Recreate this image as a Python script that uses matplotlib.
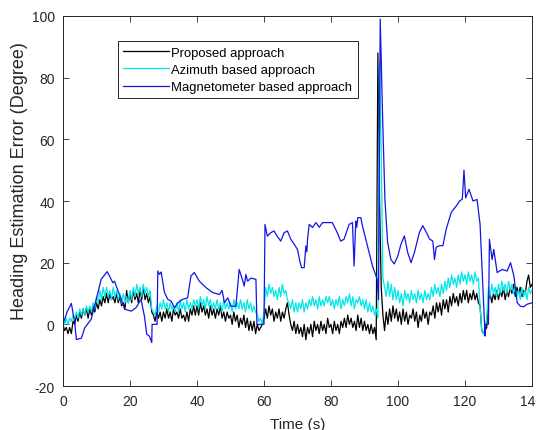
import numpy as np
import matplotlib
matplotlib.use('Agg')
import matplotlib.pyplot as plt

plt.rcParams['font.family'] = ['Liberation Sans', 'DejaVu Sans']
plt.rcParams['axes.unicode_minus'] = False

# time grid of the two noisy estimates (0.5 s steps)
t_grid = np.arange(0, 140.5, 0.5)

# proposed approach (black), one row = 10 s
proposed = [
    0, -2, -1, -3, -1, -3, 1, 0, 3, 1, 4, 2, 5, 3, 5, 2, 5, 3, 6, 4,
    7, 5, 8, 6, 9, 7, 10, 7, 10, 8, 9, 7, 10, 7, 9, 6, 7, 5, 11, 7,
    10, 7, 11, 8, 10, 7, 11, 8, 12, 8, 10, 7, 9, 4, 3, 1, 4, 2, 4, 1,
    4, 2, 5, 2, 4, 1, 5, 3, 4, 2, 5, 2, 3, 1, 4, 1, 5, 3, 6, 3,
    6, 3, 7, 4, 6, 3, 5, 2, 6, 3, 5, 2, 5, 3, 6, 2, 4, 1, 4, 2,
    3, 0, 4, 1, 3, -1, 2, 0, 3, -1, 2, -2, 1, -2, 1, -3, 0, -2, -1, 0,
    2, 5, 2, 6, 3, 5, 1, 4, 2, 5, 1, 4, 2, 5, 7, 3, 0, -2, 1, -3,
    0, -3, -1, -4, 0, -5, -1, -3, 0, -4, 1, -2, 0, -3, 1, -2, 0, -3, 2, -1,
    0, -3, 1, -2, 0, -3, 1, -1, 2, -1, 3, 0, 2, -1, 1, -2, 3, -1, 2, -2,
    1, -2, 0, -3, 0, -3, -1, -5, 88, 40, 12, 3, -2, 4, 0, 5, 1, 6, 2, 5,
    1, 4, 0, 5, 1, 4, 0, 3, 2, 5, 1, 4, -1, 3, 1, 5, 2, 4, 0, 4,
    3, 6, 2, 7, 4, 7, 3, 8, 5, 8, 4, 9, 6, 10, 7, 9, 6, 10, 7, 11,
    8, 11, 7, 10, 8, 11, 8, 10, 7, 6, -2, -3, -2, -1, 8, 10, 7, 10, 8, 11,
    8, 11, 9, 12, 8, 11, 9, 12, 10, 13, 9, 12, 10, 12, 9, 11, 10, 14, 16, 12,
    13]

# azimuth based approach (cyan)
azimuth = [
    1, 0, 2, 0, 2, 1, 3, 2, 4, 2, 5, 3, 5, 3, 6, 4, 6, 4, 7, 5,
    9, 7, 11, 8, 12, 9, 12, 9, 11, 8, 12, 9, 11, 8, 10, 7, 10, 7, 9, 7,
    11, 8, 12, 9, 13, 10, 12, 9, 13, 10, 12, 9, 11, 5, 4, 3, 6, 4, 7, 5,
    8, 5, 7, 4, 7, 5, 6, 4, 7, 4, 8, 5, 7, 4, 8, 5, 7, 5, 8, 6,
    8, 5, 9, 6, 8, 5, 9, 6, 8, 5, 7, 5, 8, 5, 7, 4, 8, 5, 7, 5,
    7, 4, 8, 5, 7, 5, 8, 5, 7, 4, 8, 5, 7, 4, 6, 4, 3, 1, 2, 0,
    4, 12, 9, 13, 10, 12, 9, 11, 8, 12, 9, 13, 10, 11, 8, 7, 5, 8, 4, 7,
    4, 7, 5, 8, 4, 7, 5, 8, 6, 9, 6, 8, 5, 9, 6, 8, 6, 9, 7, 9,
    6, 8, 5, 8, 6, 9, 5, 8, 6, 9, 7, 10, 6, 9, 5, 8, 7, 9, 6, 8,
    5, 8, 4, 7, 4, 6, 3, 5, 2, 85, 55, 15, 12, 9, 14, 9, 13, 8, 12, 8,
    11, 7, 10, 6, 11, 8, 10, 7, 11, 8, 10, 7, 11, 8, 10, 7, 11, 8, 10, 8,
    12, 9, 13, 10, 12, 9, 13, 10, 14, 11, 15, 12, 16, 13, 15, 12, 16, 13, 17, 14,
    16, 13, 17, 14, 16, 13, 17, 14, 15, 6, -2, -3, -1, 2, 12, 9, 13, 10, 12, 9,
    13, 10, 14, 11, 13, 10, 14, 11, 13, 10, 12, 9, 11, 8, 12, 9, 11, 8, 12, 10,
    11]

# magnetometer based approach (blue), read at its break points
mag_t = [0, 1.2, 2.5, 3.5, 4.0, 5.5, 6.5, 8.4, 9.9, 11.4, 13.2, 14.9, 15.4, 15.9,
         17.4, 18.4, 20.4, 21.8, 23.3, 24.3, 25.0, 25.8, 26.5, 26.6, 28.1, 28.3,
         28.8, 29.3, 30.3, 31.3, 32.3, 33.3, 34.3, 35.7, 37.2, 38.2, 39.2, 40.7,
         42.7, 44.7, 46.7, 47.5, 48.2, 49.2, 50.1, 51.6, 52.6, 53.4, 54.1, 54.6,
         55.1, 56.1, 57.6, 57.9, 60.0, 60.3, 61.0, 62.0, 63.0, 64.0, 65.0, 66.0,
         67.0, 68.0, 69.0, 70.0, 70.7, 71.2, 72.0, 72.5, 72.8, 73.0, 73.5, 74.5,
         75.5, 76.5, 77.5, 78.5, 80.4, 81.9, 82.9, 83.9, 85.4, 86.4, 86.9, 87.4,
         87.7, 88.0, 88.9, 89.4, 90.4, 91.4, 92.4, 93.1, 93.8, 94.2, 94.7, 95.4,
         96.1, 96.9, 97.9, 98.9, 99.9, 100.9, 101.9, 102.9, 103.9, 104.9, 106.4,
         107.4, 108.4, 109.4, 110.4, 110.9, 111.4, 112.4, 113.4, 114.4, 115.9,
         117.4, 118.4, 119.2, 119.7, 120.2, 121.2, 122.4, 123.6, 124.5, 125.4,
         126.0, 126.1, 127.0, 127.3, 128.1, 128.6, 129.6, 131.1, 132.6, 133.6,
         134.6, 135.6, 136.5, 137.5, 138.5, 140.0]
mag_v = [0, 4, 6.8, 0.5, -4.9, -4.5, -1.1, 1.6, 8, 14.6, 17.1, 13.5, 14, 12.4,
         8.1, 4.9, 4.3, 5.4, 8.1, 2.7, -3.2, -3.8, -5.9, 0, 0, 17.3,
         16.2, 17, 10.3, 8.1, 7.5, 5.4, 7, 8.1, 8.6, 15.7, 16.8, 14,
         11.9, 10.3, 9.7, 11, 7, 8.6, 5.9, 5.9, 17.8, 15.1, 12.4, 16.2,
         14, 15, 14.6, 0, 0, 32.4, 28.6, 29.7, 30.3, 28.5, 27, 29.7,
         30.3, 27.6, 26, 24.3, 20.5, 18.4, 18.4, 25.4, 23.5, 27.6, 32.4, 31.4,
         33, 31.5, 33, 33, 33, 29.7, 27, 27.6, 32.4, 33, 18.9, 33.5,
         31.5, 34.6, 34.6, 31.9, 27.6, 23.2, 18.9, 16.8, 14.6, 8, 99, 67.6,
         40.6, 26.6, 21, 19.6, 22, 26, 28.7, 23.3, 20, 23.3, 29.8,
         32, 30, 27.7, 27, 21, 25, 25.5, 25.5, 30.9, 36.3,
         38.4, 40, 40.6, 50, 41, 43.8, 40, 40.5, 32.5, 11,
         -3.8, 0, 0, 27.6, 21, 24.3, 16.8, 17.8, 17.3, 20,
         15.7, 7, 5.9, 5.7, 6.5, 7]

x_ticks = [0, 20, 40, 60, 80, 100, 120, 140]
y_ticks = [-20, 0, 20, 40, 60, 80, 100]

fig = plt.figure(figsize=(5.36, 4.31), dpi=100)
ax = fig.add_axes([0.1175, 0.102, 0.875, 0.8586])

ax.plot(t_grid, proposed, color='k', lw=0.9, label='Proposed approach')
ax.plot(t_grid, azimuth, color='#00e8e8', lw=0.9, label='Azimuth based approach')
ax.plot(mag_t, mag_v, color='#1414e6', lw=0.9, label='Magnetometer based approach')

ax.set_xlim(0, 140)
ax.set_ylim(-20, 100)
ax.set_xticks(x_ticks)
ax.set_yticks(y_ticks)
ax.tick_params(direction='in', top=True, right=True, length=4, width=0.6,
               labelsize=10, colors='#262626')
ax.tick_params(axis='x', pad=6)
ax.tick_params(axis='y', pad=6)
for s in ax.spines.values():
    s.set_color('#262626')
    s.set_linewidth(0.7)

ax.set_xlabel('Time (s)', fontsize=11, color='#262626', labelpad=6)
ax.set_ylabel('Heading Estimation Error (Degree)', fontsize=13, color='#262626')
ax.yaxis.set_label_coords(-0.074, 0.557)

leg = ax.legend(loc='upper left', bbox_to_anchor=(0.117, 0.932), borderaxespad=0,
                fontsize=9.4, fancybox=False, framealpha=1, edgecolor='#262626',
                handlelength=3.5, handletextpad=0.2, labelspacing=0.4,
                borderpad=0.4)
leg.get_frame().set_linewidth(0.7)

fig.savefig('out.png', dpi=100)
